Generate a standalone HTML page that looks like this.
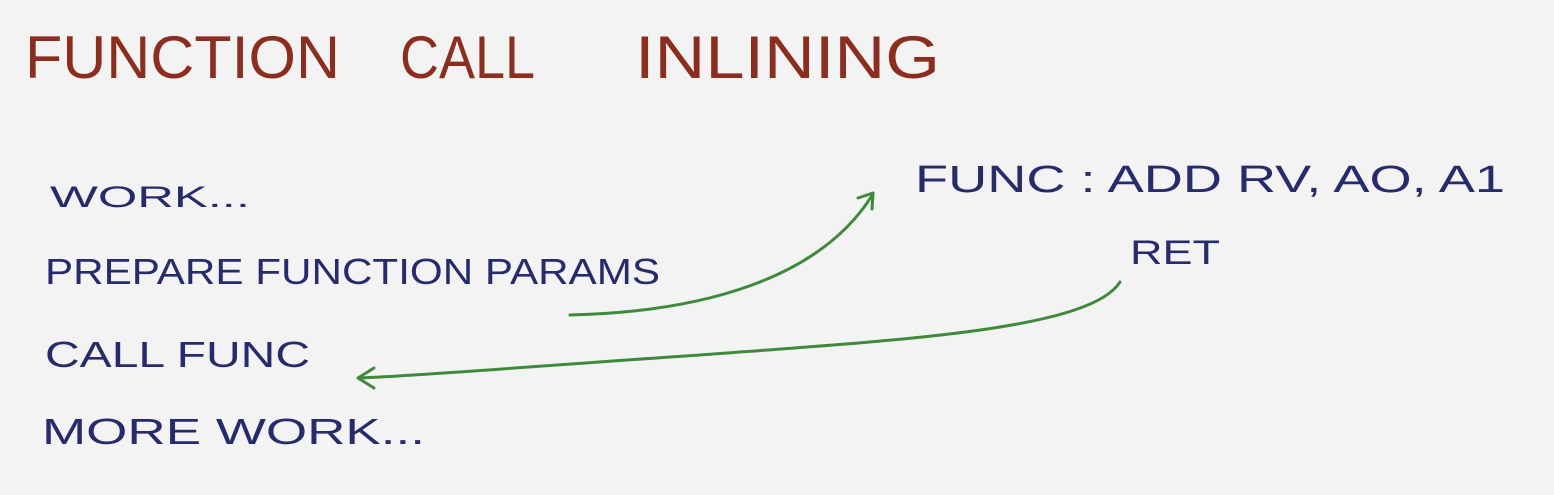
<!DOCTYPE html>
<html>
<head>
<meta charset="utf-8">
<style>
  html,body{margin:0;padding:0;background:#f3f3f3;}
  svg{display:block;}
  text{font-family:"Liberation Sans",sans-serif;}
</style>
</head>
<body>
<svg width="1554" height="495" viewBox="0 0 1554 495" xmlns="http://www.w3.org/2000/svg">
  <rect width="1554" height="495" fill="#f3f3f3"/>
  <!-- Title -->
  <g fill="#8c2e1f" font-size="60">
    <text x="25" y="78" textLength="315" lengthAdjust="spacingAndGlyphs">FUNCTION</text>
    <text x="400" y="78" textLength="135" lengthAdjust="spacingAndGlyphs">CALL</text>
    <text x="635" y="78" textLength="305" lengthAdjust="spacingAndGlyphs">INLINING</text>
  </g>
  <!-- Left code -->
  <g fill="#262b6b" font-size="36">
    <text x="50" y="207" textLength="200" lengthAdjust="spacingAndGlyphs" font-size="30">WORK...</text>
    <text x="45" y="284" textLength="615" lengthAdjust="spacingAndGlyphs">PREPARE FUNCTION PARAMS</text>
    <text x="45" y="367" textLength="265" lengthAdjust="spacingAndGlyphs">CALL  FUNC</text>
    <text x="42" y="444" textLength="383" lengthAdjust="spacingAndGlyphs">MORE WORK...</text>
  </g>
  <!-- Right code -->
  <g fill="#262b6b" font-size="38">
    <text x="915" y="192" textLength="590" lengthAdjust="spacingAndGlyphs">FUNC : ADD  RV, AO, A1</text>
    <text x="1130" y="264" textLength="90" lengthAdjust="spacingAndGlyphs" font-size="34">RET</text>
  </g>
  <!-- Green arrows -->
  <g fill="none" stroke="#3f8a3a" stroke-width="3" stroke-linecap="round" stroke-linejoin="round">
    <path d="M570 315 C 700 312, 820 280, 873 194"/>
    <path d="M858 198 L873 193 L872 209"/>
    <path d="M1120 282 C 1090 330, 900 340, 700 355 C 550 365, 430 375, 360 378"/>
    <path d="M374 368 L358 378 L374 388"/>
  </g>
</svg>
</body>
</html>
